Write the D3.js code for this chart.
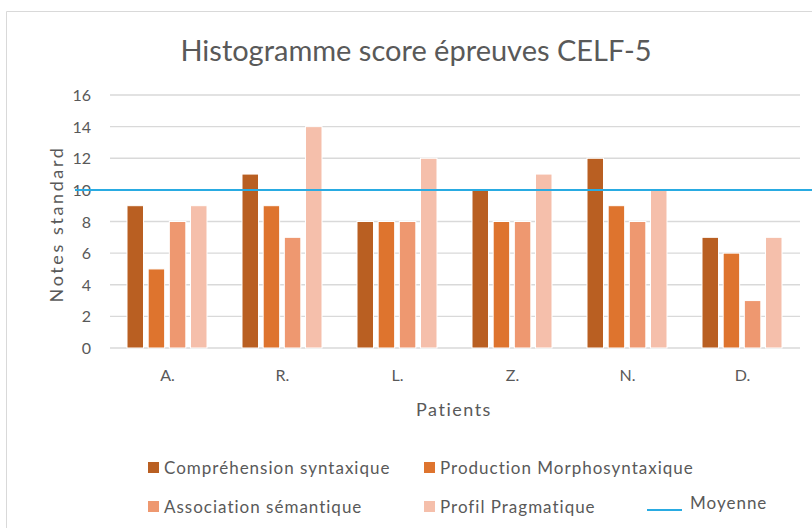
<!DOCTYPE html>
<html>
<head>
<meta charset="utf-8">
<script src="https://cdn.jsdelivr.net/npm/d3@7"></script>
<style>
  body { margin: 0; background: #fff; }
  text { font-family: Lato, "Open Sans", sans-serif; fill: #595959; }
</style>
</head>
<body>
<div id="chart"></div>
<script>
// Data
const patients = ["A.", "R.", "L.", "Z.", "N.", "D."];
const seriesNames = ["Compréhension syntaxique", "Production Morphosyntaxique", "Association sémantique", "Profil Pragmatique"];
const comprehension = [9, 11, 8, 10, 12, 7];
const production = [5, 9, 8, 8, 9, 6];
const association = [8, 7, 8, 8, 8, 3];
const pragmatique = [9, 14, 12, 11, 10, 7];
const moyenne = 10;
const yTicks = [0, 2, 4, 6, 8, 10, 12, 14, 16];

const seriesValues = [comprehension, production, association, pragmatique];
const colors = ["#B95F22", "#DE742E", "#EE9870", "#F5BFAB"];

const width = 812, height = 528;

const svg = d3.select("#chart")
  .append("svg")
  .attr("width", width)
  .attr("height", height);

// chart frame
svg.append("path")
  .attr("d", "M6.5," + height + " V11.5 H" + width)
  .attr("fill", "none")
  .attr("stroke", "#d9d9d9");

// Scales
const x = d3.scaleBand()
  .domain(patients)
  .range([110, 800]);

const y = d3.scaleLinear()
  .domain([0, 16])
  .range([348, 95]);

const xInner = d3.scaleBand()
  .domain(d3.range(seriesNames.length))
  .range([17, 97])
  .paddingInner(0.22);

// Gridlines
svg.append("g")
  .selectAll("line")
  .data(yTicks)
  .enter()
  .append("line")
  .attr("x1", 110)
  .attr("x2", 800)
  .attr("y1", d => y(d))
  .attr("y2", d => y(d))
  .attr("stroke", "#d9d9d9")
  .attr("stroke-width", 1.3);

// Y tick labels
svg.append("g")
  .selectAll("text")
  .data(yTicks)
  .enter()
  .append("text")
  .attr("x", 91)
  .attr("y", d => y(d) + 6)
  .attr("text-anchor", "end")
  .style("font-size", "16px")
  .text(d => d);

// Bars
const rows = [];
patients.forEach(function (p, i) {
  seriesValues.forEach(function (vals, s) {
    rows.push({ patient: p, s: s, value: vals[i] });
  });
});

svg.append("g")
  .selectAll("rect")
  .data(rows)
  .enter()
  .append("rect")
  .attr("x", d => x(d.patient) + xInner(d.s))
  .attr("y", d => y(d.value))
  .attr("width", xInner.bandwidth())
  .attr("height", d => y(0) - y(d.value))
  .attr("fill", d => colors[d.s])
  .attr("stroke", "#fff")
  .attr("stroke-width", 1);

// Moyenne line
svg.append("line")
  .attr("x1", 75)
  .attr("x2", width)
  .attr("y1", y(moyenne))
  .attr("y2", y(moyenne))
  .attr("stroke", "#29ABE2")
  .attr("stroke-width", 2);

// X labels
svg.append("g")
  .selectAll("text")
  .data(patients)
  .enter()
  .append("text")
  .attr("x", d => x(d) + x.bandwidth() / 2)
  .attr("y", 381)
  .attr("text-anchor", "middle")
  .style("font-size", "16px")
  .text(d => d);

// Title
svg.append("text")
  .attr("x", 416)
  .attr("y", 61)
  .attr("text-anchor", "middle")
  .style("font-size", "29px")
  .text("Histogramme score épreuves CELF-5");

// Axis titles
svg.append("text")
  .attr("x", 454)
  .attr("y", 416)
  .attr("text-anchor", "middle")
  .style("font-size", "18px")
  .style("letter-spacing", "1.5px")
  .text("Patients");

svg.append("text")
  .attr("transform", "translate(63," + 224 + ") rotate(-90)")
  .attr("text-anchor", "middle")
  .style("font-size", "18px")
  .style("letter-spacing", "2.6px")
  .text("Notes standard");

// Legend
const legendPos = [[148, 467], [424, 467], [148, 506], [424, 506]];
const legend = svg.append("g");

seriesNames.forEach(function (name, i) {
  legend.append("rect")
    .attr("x", legendPos[i][0])
    .attr("y", legendPos[i][1] - 5)
    .attr("width", 11)
    .attr("height", 11)
    .attr("fill", colors[i]);
  legend.append("text")
    .attr("x", legendPos[i][0] + 16)
    .attr("y", legendPos[i][1] + 7)
    .style("font-size", "17px")
    .style("letter-spacing", "1px")
    .text(name);
});

legend.append("line")
  .attr("x1", 647)
  .attr("x2", 682)
  .attr("y1", 510)
  .attr("y2", 510)
  .attr("stroke", "#29ABE2")
  .attr("stroke-width", 2);

legend.append("text")
  .attr("x", 690)
  .attr("y", 509)
  .style("font-size", "17px")
  .style("letter-spacing", "1px")
  .text("Moyenne");
</script>
</body>
</html>
